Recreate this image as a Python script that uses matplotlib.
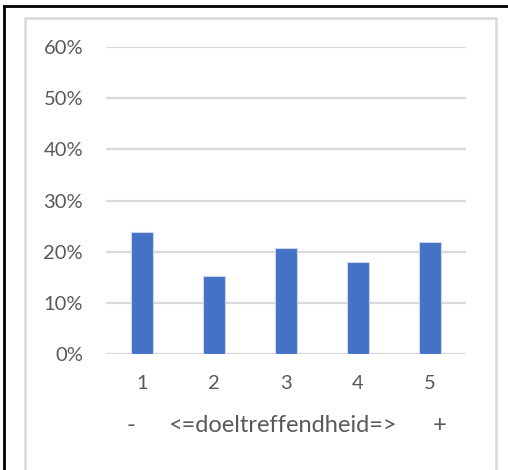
import matplotlib
matplotlib.use("Agg")
import matplotlib.pyplot as plt
from matplotlib.patches import Rectangle
from matplotlib.lines import Line2D

categories = ["1", "2", "3", "4", "5"]
values = [0.238, 0.152, 0.208, 0.180, 0.218]
yticks = [0.0, 0.1, 0.2, 0.3, 0.4, 0.5, 0.6]
ytick_labels = ["0%", "10%", "20%", "30%", "40%", "50%", "60%"]
axis_title_parts = ["-", "<=doeltreffendheid=>", "+"]

W, H = 508, 470
fig = plt.figure(figsize=(W / 100, H / 100), dpi=100)
fig.patch.set_facecolor("white")

plt.rcParams["font.family"] = ["Lato", "DejaVu Sans"]

# axes: x from 106 to 466 px, y from 354 (0%) to 47 (60%)
left, right = 106 / W, 466 / W
bottom, top = 1 - 354 / H, 1 - 47 / H
ax = fig.add_axes([left, bottom, right - left, top - bottom])
ax.set_facecolor("none")

x = list(range(len(categories)))
ax.bar(x, values, width=0.30, color="#4472C4", edgecolor="#C9D6EE", linewidth=0.8, zorder=3)

ax.set_xlim(-0.5, len(categories) - 0.5)
ax.set_ylim(0, 0.6)
ax.set_yticks(yticks)
ax.set_yticklabels(ytick_labels)
ax.set_xticks(x)
ax.set_xticklabels(categories)
ax.grid(axis="y", color="#D9D9D9", linewidth=1.6, zorder=0)
for s in ax.spines.values():
    s.set_visible(False)
ax.tick_params(axis="both", length=0, colors="#595959", labelsize=14.5)
ax.tick_params(axis="y", pad=16.5)
ax.tick_params(axis="x", pad=15)

# axis title parts (second category line)
ty = 1 - 425 / H
tfs = 17
fig.text(131 / W, ty, axis_title_parts[0], ha="center", va="center", color="#595959", fontsize=tfs)
fig.text(282 / W, ty, axis_title_parts[1], ha="center", va="center", color="#595959", fontsize=tfs)
fig.text(440 / W, ty, axis_title_parts[2], ha="center", va="center", color="#595959", fontsize=tfs)

# chart area border (light gray) and outer black frame
fig.add_artist(Rectangle((25 / W, -0.1), (496 - 25) / W, 1.1 - 18 / H,
                         transform=fig.transFigure, fill=False, edgecolor="#D9D9D9", linewidth=1.8))
fig.add_artist(Line2D([4 / W, 4 / W], [0, 1 - 6 / H], transform=fig.transFigure, color="black", linewidth=2.0))
fig.add_artist(Line2D([4 / W, 1], [1 - 6 / H, 1 - 6 / H], transform=fig.transFigure, color="black", linewidth=2.0))

fig.savefig("out.png", dpi=100)
